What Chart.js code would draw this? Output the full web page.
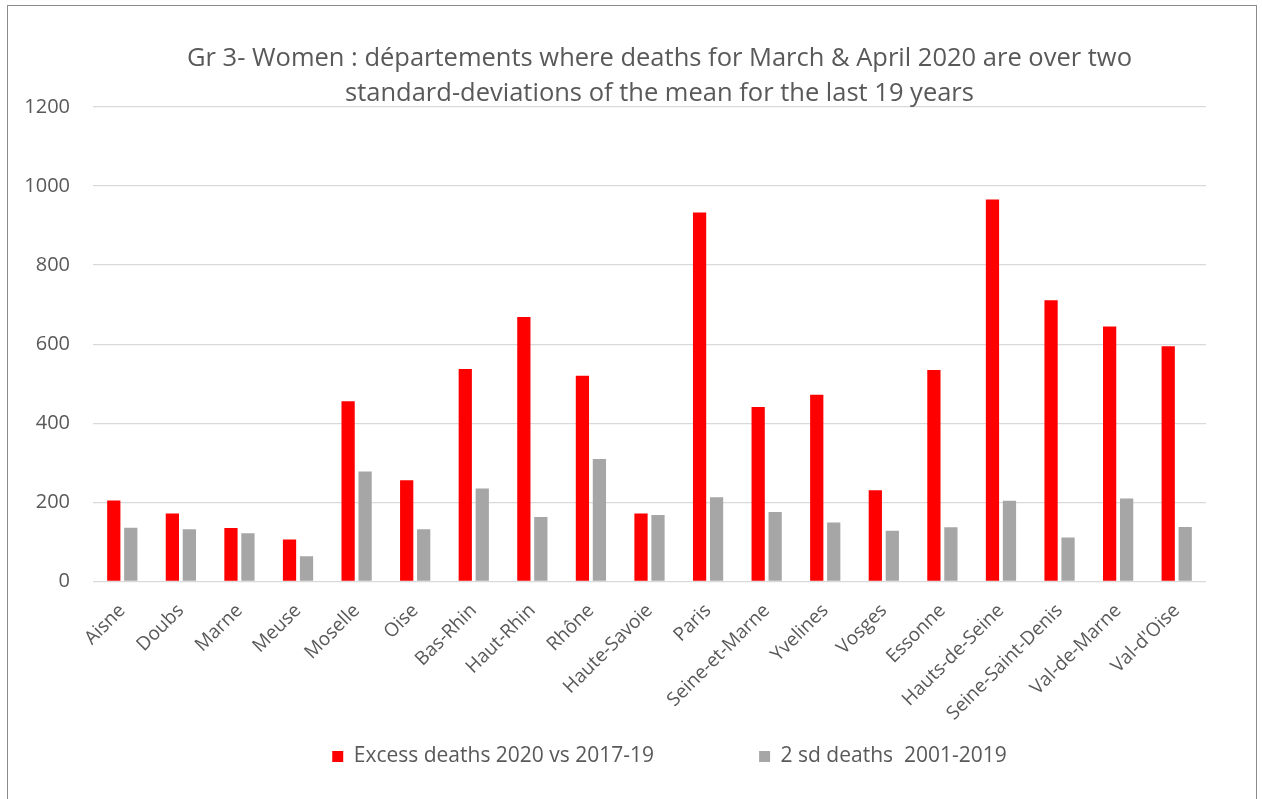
<!DOCTYPE html>
<html>
<head>
<meta charset="utf-8">
<script src="https://cdn.jsdelivr.net/npm/chart.js@4.4.0/dist/chart.umd.min.js"></script>
<style>
  body { margin: 0; background: #fff; overflow: hidden; }
  #frame { position: absolute; left: 7px; top: 5px; width: 1248px; height: 800px; border: 1px solid #8c8c8c; }
  #wrap { position: absolute; left: 0; top: 0; width: 1248px; height: 793px; }
</style>
</head>
<body>
<div id="frame"><div id="wrap"><canvas id="chart"></canvas></div></div>
<script>
const departements = ["Aisne", "Doubs", "Marne", "Meuse", "Moselle", "Oise", "Bas-Rhin", "Haut-Rhin", "Rhône", "Haute-Savoie", "Paris", "Seine-et-Marne", "Yvelines", "Vosges", "Essonne", "Hauts-de-Seine", "Seine-Saint-Denis", "Val-de-Marne", "Val-d'Oise"];
const excessDeaths = [205, 172, 135, 106, 456, 256, 537, 669, 520, 172, 933, 441, 472, 231, 535, 966, 711, 645, 595];
const twoSdDeaths = [136, 132, 122, 64, 278, 132, 235, 163, 310, 168, 213, 176, 149, 128, 137, 204, 111, 210, 138];
const titleLines = ["Gr 3- Women : départements where deaths for March & April 2020 are over two", "standard-deviations of the mean for the last 19 years"];

const textColor = "#595959";
const fontFamily = "'Open Sans', sans-serif";

// nudge title and legend to the right like in the excel chart,
// and let the rotated x labels run down past the axis box
const shiftBoxes = {
  id: "shiftBoxes",
  afterLayout(chart) {
    if (chart.titleBlock) { chart.titleBlock.left += 10; chart.titleBlock.right += 10; }
    if (chart.legend) { chart.legend.left += 20; chart.legend.right += 20; }
    chart.scales.x.bottom = chart.height;
  }
};

const ctx = document.getElementById("chart");

new Chart(ctx, {
  type: "bar",
  data: {
    labels: departements,
    datasets: [{
      label: "Excess deaths 2020 vs 2017-19",
      data: excessDeaths,
      backgroundColor: "#ff0000",
      borderWidth: 0,
      categoryPercentage: 0.58,
      barPercentage: 0.78
    }, {
      label: "2 sd deaths  2001-2019",
      data: twoSdDeaths,
      backgroundColor: "#a6a6a6",
      borderWidth: 0,
      categoryPercentage: 0.58,
      barPercentage: 0.78
    }]
  },
  options: {
    responsive: true,
    maintainAspectRatio: false,
    animation: false,
    layout: { padding: { left: 0, right: 50, top: 0, bottom: 22 } },
    plugins: {
      tooltip: { enabled: false },
      title: {
        display: true,
        fullSize: false,
        text: titleLines,
        color: textColor,
        font: { family: fontFamily, size: 25.5, weight: "normal", lineHeight: 1.37 },
        padding: { top: 35.5, bottom: -4.5 }
      },
      legend: {
        position: "bottom",
        fullSize: false,
        labels: {
          color: textColor,
          font: { family: fontFamily, size: 21 },
          boxWidth: 11,
          boxHeight: 11,
          padding: 105
        }
      }
    },
    scales: {
      x: {
        grid: { display: false },
        border: { display: false },
        ticks: {
          color: textColor,
          font: { family: fontFamily, size: 19 },
          minRotation: 45,
          maxRotation: 45,
          autoSkip: false,
          padding: 10
        },
        afterFit: (axis) => { axis.height = 59.5; }
      },
      y: {
        min: 0,
        max: 1200,
        grid: { color: "#d9d9d9", lineWidth: 1.3, drawTicks: false },
        border: { display: false },
        ticks: {
          stepSize: 200,
          color: textColor,
          font: { family: fontFamily, size: 20 },
          padding: 23,
          callback: (value) => String(value)
        },
        afterFit: (axis) => { axis.width = 85; }
      }
    }
  },
  plugins: [shiftBoxes]
});
</script>
</body>
</html>
